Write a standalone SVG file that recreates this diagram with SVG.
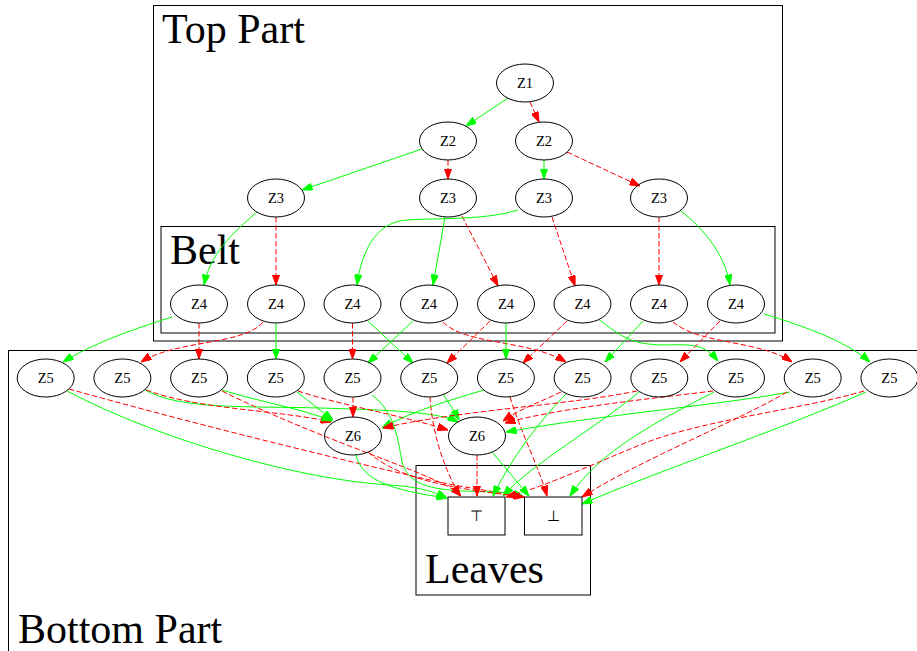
<svg xmlns="http://www.w3.org/2000/svg" width="917" height="651" viewBox="0 0 917 651">
<style>
.cl{fill:none;stroke:#000;stroke-width:1}
.cll{font-family:"Liberation Serif","Times New Roman",serif;font-size:42px;fill:#000}
.n ellipse,.n rect{fill:none;stroke:#000;stroke-width:1}
.n text{font-family:"Liberation Serif","Times New Roman",serif;font-size:14.5px;text-anchor:middle;fill:#000}
.g{fill:none;stroke:#00ff00;stroke-width:1;marker-end:url(#ag)}
.r{fill:none;stroke:#ff0000;stroke-width:1;stroke-dasharray:5.5,2.5;marker-end:url(#ar)}
</style>
<defs>
<marker id="ag" viewBox="0 0 10.5 7.4" refX="10.5" refY="3.7" markerWidth="10.5" markerHeight="7.4" markerUnits="userSpaceOnUse" orient="auto"><path d="M0,0L10.5,3.7L0,7.4z" fill="#00ff00" stroke="#00ff00" stroke-dasharray="none"/></marker>
<marker id="ar" viewBox="0 0 10.5 7.4" refX="10.5" refY="3.7" markerWidth="10.5" markerHeight="7.4" markerUnits="userSpaceOnUse" orient="auto"><path d="M0,0L10.5,3.7L0,7.4z" fill="#ff0000" stroke="#ff0000" stroke-dasharray="none"/></marker>
</defs>
<rect width="917" height="651" fill="#fff"/>
<g id="clusters">
<rect class="cl" x="153.5" y="5.5" width="629" height="335.5"/>
<text class="cll" x="162" y="43">Top Part</text>
<rect class="cl" x="161" y="226.5" width="614" height="106.5"/>
<text class="cll" x="170" y="264">Belt</text>
<rect class="cl" x="8.5" y="350.5" width="1000" height="400"/>
<text class="cll" x="18" y="643">Bottom Part</text>
<rect class="cl" x="416" y="465.5" width="174.5" height="129.5"/>
<text class="cll" x="425" y="583">Leaves</text>
</g>
<g id="edges">
<path class="g" d="M508,98 L466,126"/>
<path class="r" d="M530,102 L539,122"/>
<path class="g" d="M422,149 L302,190"/>
<path class="r" d="M448,160 L448,179"/>
<path class="g" d="M544,160 L544,179"/>
<path class="r" d="M567,152 L640,186"/>
<path class="g" d="M257,212 C230,235 210,255 204,285"/>
<path class="r" d="M276,217 L276,285"/>
<path class="g" d="M445,217 L433,285"/>
<path class="r" d="M462,216 L498,286"/>
<path class="g" d="M518,210 C480,222 420,217 400,221 C370,227 360,262 357,285"/>
<path class="r" d="M552,217 L575,286"/>
<path class="r" d="M659,217 L659,285"/>
<path class="g" d="M681,211 C705,230 725,255 730,285"/>
<path class="g" d="M172,317 C130,330 90,345 63,362"/>
<path class="r" d="M199,323 L199,359"/>
<path class="r" d="M263,322 C245,345 175,340 141,362"/>
<path class="g" d="M276,323 L276,359"/>
<path class="r" d="M352.5,323 L352.5,359"/>
<path class="g" d="M368,321 L413,363"/>
<path class="g" d="M413,321 L368,363"/>
<path class="r" d="M443,322 C465,345 530,340 566,362"/>
<path class="r" d="M490,321 L447,363"/>
<path class="g" d="M506,323 L506,359"/>
<path class="r" d="M567,321 L523,363"/>
<path class="g" d="M598,319 C620,335 630,345 665,345 C695,344 705,345 718,361"/>
<path class="g" d="M643,321 L605,362"/>
<path class="r" d="M673,322 C700,345 760,340 792,362"/>
<path class="r" d="M720,321 L680,362"/>
<path class="g" d="M764,314 C800,325 845,340 870,362"/>
<path class="g" d="M67,391 C160,440 300,480 390,485 C420,487 435,492 447,498"/>
<path class="r" d="M69,389 C180,420 320,455 430,480 C470,489 500,492 524,497"/>
<path class="g" d="M145,390 C180,410 250,406 320,408 C390,410 440,412 458,422"/>
<path class="r" d="M146,390 C200,410 280,410 331,422"/>
<path class="g" d="M222,390 C260,402 300,408 332,421"/>
<path class="r" d="M222,391 C300,430 390,460 430,478 C445,484 455,490 461,496"/>
<path class="g" d="M297,392 C310,402 320,410 333,420"/>
<path class="r" d="M298,391 C340,405 400,415 448,430"/>
<path class="r" d="M353,397 L353,417"/>
<path class="g" d="M372,395 C395,412 398,440 402,462 C410,490 440,491 500,492 C510,493 518,495 524,497"/>
<path class="g" d="M443,394 C450,405 455,412 459,420"/>
<path class="r" d="M430,397 C432,430 442,465 460,496"/>
<path class="g" d="M484,390 C450,400 410,412 382,428"/>
<path class="r" d="M510,397 C520,430 540,470 547,496"/>
<path class="g" d="M567,393 C540,420 510,460 493,496"/>
<path class="r" d="M561,392 C540,402 518,410 503,421"/>
<path class="g" d="M639,392 C600,425 530,465 503,496"/>
<path class="r" d="M637,391 C570,405 460,410 383,428"/>
<path class="g" d="M714,392 C660,420 600,450 570,496"/>
<path class="r" d="M713,391 C640,400 560,408 505,423"/>
<path class="g" d="M790,392 C720,405 600,415 506,432"/>
<path class="r" d="M787,392 C740,420 640,460 582,497"/>
<path class="g" d="M866,392 C780,430 660,470 582,504"/>
<path class="r" d="M864,391 C800,410 700,420 640,445 C590,465 550,485 506,497"/>
<path class="g" d="M356,455 C362,480 390,490 447,498"/>
<path class="r" d="M368,452 C400,480 450,488 524,497"/>
<path class="r" d="M477,455 L477,496"/>
<path class="g" d="M492,452 L529,496"/>
</g>
<g id="z1" class="n"><ellipse cx="525" cy="83" rx="28.5" ry="19"/><text x="525" y="88">Z1</text></g>
<g id="z2a" class="n"><ellipse cx="448" cy="141" rx="28.5" ry="19"/><text x="448" y="146">Z2</text></g>
<g id="z2b" class="n"><ellipse cx="544" cy="141" rx="28.5" ry="19"/><text x="544" y="146">Z2</text></g>
<g id="z3a" class="n"><ellipse cx="276" cy="198" rx="28.5" ry="19"/><text x="276" y="203">Z3</text></g>
<g id="z3b" class="n"><ellipse cx="448" cy="198" rx="28.5" ry="19"/><text x="448" y="203">Z3</text></g>
<g id="z3c" class="n"><ellipse cx="544" cy="198" rx="28.5" ry="19"/><text x="544" y="203">Z3</text></g>
<g id="z3d" class="n"><ellipse cx="659" cy="198" rx="28.5" ry="19"/><text x="659" y="203">Z3</text></g>
<g id="z4a" class="n"><ellipse cx="199" cy="304" rx="28.5" ry="19"/><text x="199" y="309">Z4</text></g>
<g id="z4b" class="n"><ellipse cx="276" cy="304" rx="28.5" ry="19"/><text x="276" y="309">Z4</text></g>
<g id="z4c" class="n"><ellipse cx="352.5" cy="304" rx="28.5" ry="19"/><text x="352.5" y="309">Z4</text></g>
<g id="z4d" class="n"><ellipse cx="429" cy="304" rx="28.5" ry="19"/><text x="429" y="309">Z4</text></g>
<g id="z4e" class="n"><ellipse cx="506" cy="304" rx="28.5" ry="19"/><text x="506" y="309">Z4</text></g>
<g id="z4f" class="n"><ellipse cx="582.5" cy="304" rx="28.5" ry="19"/><text x="582.5" y="309">Z4</text></g>
<g id="z4g" class="n"><ellipse cx="659" cy="304" rx="28.5" ry="19"/><text x="659" y="309">Z4</text></g>
<g id="z4h" class="n"><ellipse cx="736" cy="304" rx="28.5" ry="19"/><text x="736" y="309">Z4</text></g>
<g id="z5a" class="n"><ellipse cx="45.7" cy="378" rx="28.5" ry="19"/><text x="45.7" y="383">Z5</text></g>
<g id="z5b" class="n"><ellipse cx="122.4" cy="378" rx="28.5" ry="19"/><text x="122.4" y="383">Z5</text></g>
<g id="z5c" class="n"><ellipse cx="199.1" cy="378" rx="28.5" ry="19"/><text x="199.1" y="383">Z5</text></g>
<g id="z5d" class="n"><ellipse cx="275.8" cy="378" rx="28.5" ry="19"/><text x="275.8" y="383">Z5</text></g>
<g id="z5e" class="n"><ellipse cx="352.5" cy="378" rx="28.5" ry="19"/><text x="352.5" y="383">Z5</text></g>
<g id="z5f" class="n"><ellipse cx="429.2" cy="378" rx="28.5" ry="19"/><text x="429.2" y="383">Z5</text></g>
<g id="z5g" class="n"><ellipse cx="505.9" cy="378" rx="28.5" ry="19"/><text x="505.9" y="383">Z5</text></g>
<g id="z5h" class="n"><ellipse cx="582.6" cy="378" rx="28.5" ry="19"/><text x="582.6" y="383">Z5</text></g>
<g id="z5i" class="n"><ellipse cx="659.3" cy="378" rx="28.5" ry="19"/><text x="659.3" y="383">Z5</text></g>
<g id="z5j" class="n"><ellipse cx="736" cy="378" rx="28.5" ry="19"/><text x="736" y="383">Z5</text></g>
<g id="z5k" class="n"><ellipse cx="812.7" cy="378" rx="28.5" ry="19"/><text x="812.7" y="383">Z5</text></g>
<g id="z5l" class="n"><ellipse cx="889.4" cy="378" rx="28.5" ry="19"/><text x="889.4" y="383">Z5</text></g>
<g id="z6a" class="n"><ellipse cx="353" cy="436" rx="28.5" ry="19"/><text x="353" y="441">Z6</text></g>
<g id="z6b" class="n"><ellipse cx="477" cy="436" rx="28.5" ry="19"/><text x="477" y="441">Z6</text></g>
<g id="top" class="n"><rect x="448" y="497" width="57" height="38"/><text x="476.5" y="521">⊤</text></g>
<g id="bot" class="n"><rect x="524.5" y="497" width="57.5" height="38"/><text x="553" y="521">⊥</text></g>
</svg>
